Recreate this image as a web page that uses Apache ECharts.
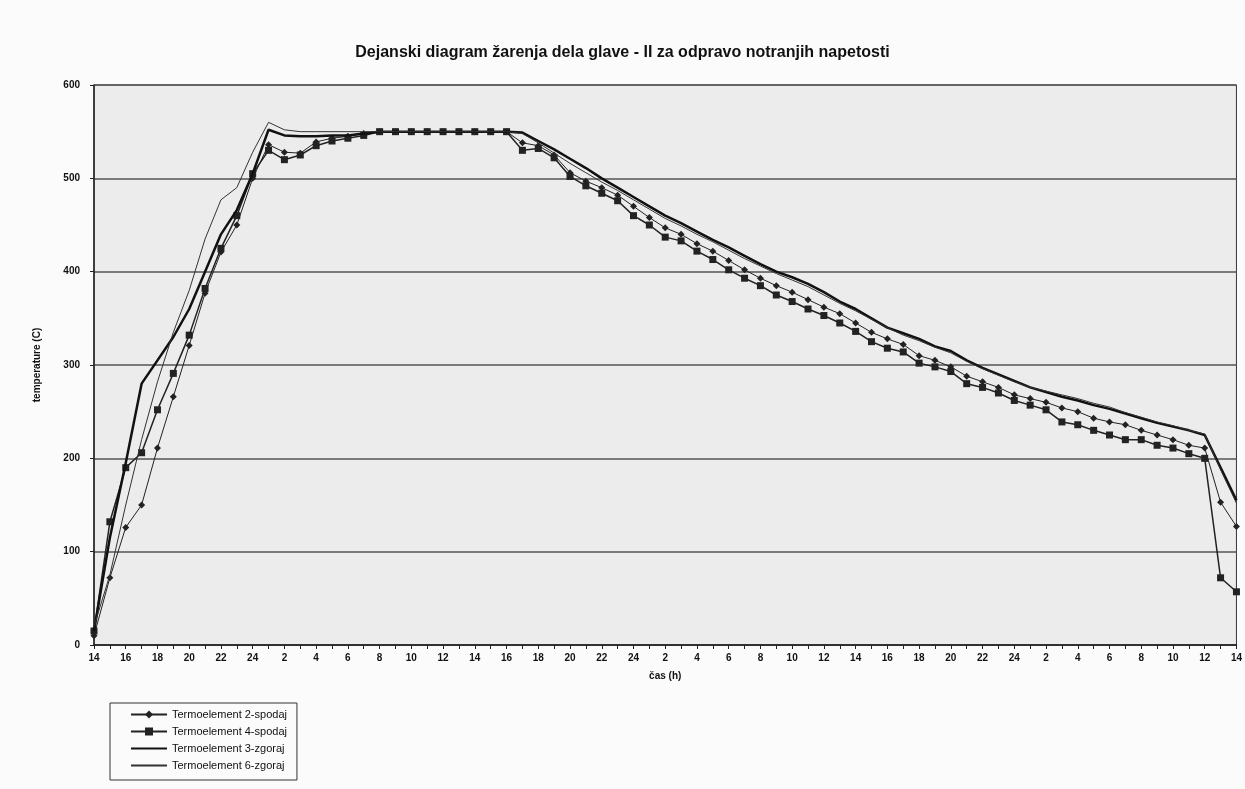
<!DOCTYPE html>
<html>
<head>
<meta charset="utf-8">
<title>Dejanski diagram žarenja</title>
<script src="https://cdn.jsdelivr.net/npm/echarts@6/dist/echarts.min.js"></script>
<style>
  html, body { margin: 0; padding: 0; background: #fbfbfb; }
  #chart { width: 1245px; height: 789px; }
</style>
</head>
<body>
<div id="chart"></div>
<script>
// ure (os x), vsaka ura en podatek
const hours = [
  14, 15, 16, 17, 18, 19, 20, 21, 22, 23, 24,
  1, 2, 3, 4, 5, 6, 7, 8, 9, 10, 11, 12, 13, 14, 15, 16, 17, 18, 19, 20, 21, 22, 23, 24,
  1, 2, 3, 4, 5, 6, 7, 8, 9, 10, 11, 12, 13, 14, 15, 16, 17, 18, 19, 20, 21, 22, 23, 24,
  1, 2, 3, 4, 5, 6, 7, 8, 9, 10, 11, 12, 13, 14
]

const spodaj2 = [
  10, 72, 126, 150, 211, 266, 321, 377, 421, 450, 500, 536, 528, 527, 539, 543, 545, 548,
  550, 550, 550, 550, 550, 550, 550, 550, 550,
  538, 535, 525, 506, 497, 490, 482, 470, 458, 447, 440, 430, 422, 412, 402, 393, 385, 378,
  370, 362, 355, 345, 335, 328, 322, 310, 305, 298, 288, 282, 276, 268, 264, 260, 254, 250,
  243, 239, 236, 230, 225, 220, 214, 211, 153, 127
]

const spodaj4 = [
  15, 132, 190, 206, 252, 291, 332, 382, 425, 460, 505, 530, 520, 525, 535, 540, 543, 546,
  550, 550, 550, 550, 550, 550, 550, 550, 550,
  530, 532, 522, 502, 492, 484, 476, 460, 450, 437, 433, 422, 413, 402, 393, 385, 375, 368,
  360, 353, 345, 336, 325, 318, 314, 302, 298, 293, 280, 276, 270, 262, 257, 252, 239, 236,
  230, 225, 220, 220, 214, 211, 205, 200, 72, 57
]

const zgoraj3 = [
  15, 115, 195, 280, 305, 330, 360, 400, 440, 466, 505, 552, 546, 545, 545, 546, 546, 548,
  550, 550, 550, 550, 550, 550, 550, 550, 550,
  549, 540, 531, 521, 511, 500, 490, 480, 470, 460, 452, 443, 434, 426, 417, 408, 400, 394,
  387, 378, 368, 360, 350, 340, 334, 328, 320, 315, 305, 297, 290, 283, 276, 271, 266, 262,
  257, 253, 248, 243, 238, 234, 230, 225, 190, 155
]

const zgoraj6 = [
  20, 75, 150, 220, 282, 335, 380, 435, 477, 490, 528, 560, 552, 550, 550, 550, 550, 550,
  550, 550, 550, 550, 550, 550, 550, 550, 550,
  548, 538, 527, 516, 506, 496, 487, 477, 467, 457, 449, 440, 432, 423, 414, 406, 398, 391,
  384, 375, 366, 358, 349, 340, 332, 326, 319, 313, 304, 296, 289, 282, 276, 272, 268, 264,
  259, 255, 249, 244, 239, 235, 230, 226, 188, 152
]

const names = ['Termoelement 2-spodaj', 'Termoelement 4-spodaj', 'Termoelement 3-zgoraj', 'Termoelement 6-zgoraj']

const chart = echarts.init(document.getElementById('chart'))
const font = 'Liberation Sans, Arial, sans-serif'

const option = {
  backgroundColor: '#fbfbfb',
  animation: false,
  color: ['#222', '#222', '#111', '#333'],
  textStyle: { fontFamily: font, color: '#111' },
  title: {
    text: 'Dejanski diagram žarenja dela glave - II za odpravo notranjih napetosti',
    left: 'center',
    top: 40,
    textStyle: { fontSize: 16, fontWeight: 'bold', color: '#111', fontFamily: font }
  },
  grid: {
    left: 94,
    right: 6,
    top: 85,
    bottom: 144,
    show: true,
    backgroundColor: '#ececec',
    borderColor: '#333',
    borderWidth: 1
  },
  legend: {
    orient: 'vertical',
    left: 110,
    top: 703,
    itemWidth: 36,
    itemHeight: 10,
    itemGap: 6,
    padding: [6, 10, 9, 20],
    borderColor: '#333',
    borderWidth: 1,
    textStyle: { fontSize: 11, color: '#111', fontFamily: font },
    data: [
      { name: names[0] },
      { name: names[1] },
      // debele in tanke crte brez markerja
      { name: names[2], itemStyle: { opacity: 0 } },
      { name: names[3], itemStyle: { opacity: 0 } }
    ]
  },
  xAxis: {
    type: 'category',
    data: hours,
    boundaryGap: false,
    name: 'čas (h)',
    nameLocation: 'middle',
    nameGap: 26,
    nameTextStyle: { fontSize: 10, fontWeight: 'bold', color: '#111' },
    axisLine: { lineStyle: { color: '#222', width: 1.5 } },
    axisTick: { interval: 0, length: 4, lineStyle: { color: '#222' } },
    axisLabel: { interval: 1, fontSize: 10, fontWeight: 'bold', color: '#111', margin: 8 },
    splitLine: { show: false }
  },
  yAxis: {
    type: 'value',
    min: 0,
    max: 600,
    interval: 100,
    name: 'temperature (C)',
    nameLocation: 'middle',
    nameGap: 52,
    nameTextStyle: { fontSize: 10, fontWeight: 'bold', color: '#111' },
    axisLine: { show: true, lineStyle: { color: '#222', width: 1.5 } },
    axisTick: { show: true, length: 4, lineStyle: { color: '#222' } },
    axisLabel: { fontSize: 10, fontWeight: 'bold', color: '#111', margin: 14 },
    splitLine: { lineStyle: { color: '#555', width: 1.5 } }
  },
  series: [
    {
      name: names[0],
      type: 'line',
      data: spodaj2,
      symbol: 'diamond',
      symbolSize: 7,
      itemStyle: { color: '#222' },
      lineStyle: { color: '#222', width: 1 },
      z: 3
    },
    {
      name: names[1],
      type: 'line',
      data: spodaj4,
      symbol: 'rect',
      symbolSize: 7,
      itemStyle: { color: '#222' },
      lineStyle: { color: '#222', width: 1.5 },
      z: 3
    },
    {
      name: names[2],
      type: 'line',
      data: zgoraj3,
      symbol: 'none',
      itemStyle: { color: '#111' },
      lineStyle: { color: '#111', width: 2.5 },
      z: 4
    },
    {
      name: names[3],
      type: 'line',
      data: zgoraj6,
      symbol: 'none',
      itemStyle: { color: '#333' },
      lineStyle: { color: '#333', width: 1 },
      z: 4
    }
  ]
}

chart.setOption(option)
</script>
</body>
</html>
